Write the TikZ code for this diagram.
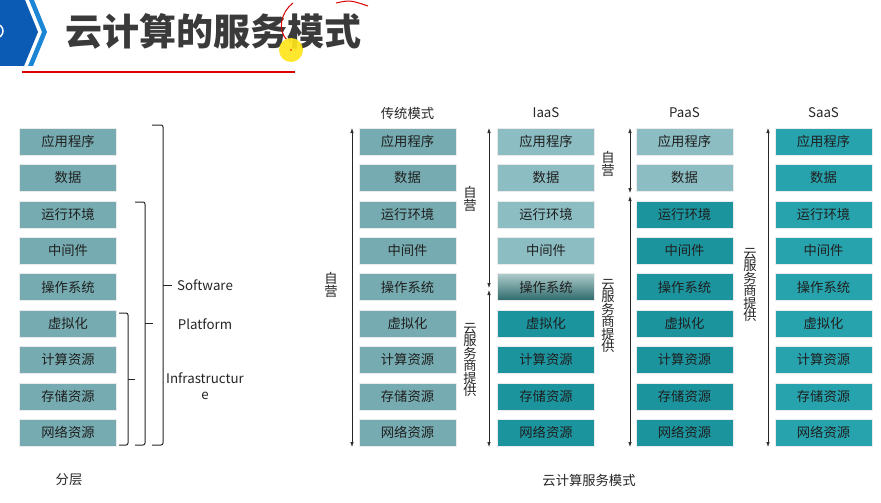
\documentclass[tikz,border=0pt]{standalone}
\usepackage{fontspec}
\setmainfont{Noto Sans CJK SC}
\usetikzlibrary{arrows.meta}
\definecolor{tradc}{HTML}{76ACB1}
\definecolor{lightc}{HTML}{8CBDC2}
\definecolor{darkc}{HTML}{1B949E}
\definecolor{saasc}{HTML}{27A3AD}
\definecolor{osTop}{HTML}{AECBCB}
\definecolor{osBot}{HTML}{2C696B}
\definecolor{chevblue}{HTML}{0B5BB5}
\definecolor{stripeblue}{HTML}{1C86D6}
\definecolor{titlegray}{HTML}{3A3A3A}
\tikzset{
  layer/.style={minimum width=97pt, minimum height=27pt, inner sep=0pt,
    font=\fontsize{13.3}{14}\selectfont, text=black!88, draw=white!92!black, line width=0.6pt},
  tA/.style={fill=tradc},
  iA/.style={fill=lightc},
  iG/.style={top color=osTop, bottom color=osBot},
  iB/.style={fill=darkc},
  pA/.style={fill=lightc},
  pB/.style={fill=darkc},
  sA/.style={fill=saasc},
  dbl/.style={{Latex[length=5pt,width=3.5pt]}-{Latex[length=5pt,width=3.5pt]}, line width=0.7pt, draw=black!85},
  vlabel/.style={align=center, inner sep=0pt, font=\fontsize{13.3}{12.5}\selectfont, text=black!85},
  hlabel/.style={inner sep=0pt, font=\fontsize{13.3}{15}\selectfont, text=black!85},
  bracepath/.style={line width=1pt, draw=black!85, rounded corners=2pt}
}
\begin{document}
\begin{tikzpicture}[x=1pt,y=-1pt]
\useasboundingbox[fill=white] (0,0) rectangle (881,503);

% title bar
\fill[chevblue] (0,0) -- (25,0) -- (38,32) -- (24,66) -- (0,66) -- cycle;
\fill[stripeblue] (29,0) -- (34,0) -- (47,32) -- (33,66) -- (28,66) -- (42,32) -- cycle;
\draw[white, line width=1.5pt] (-4,31) circle (7);
\node[inner sep=0pt, font=\fontsize{37}{40}\selectfont\bfseries, text=titlegray] (title) at (213.5,31) {云计算的服务模式};
\draw[red!85!black, line width=1.2pt] (22,72) -- (295,72);
\draw[red!85!black, line width=1pt] (293,3) .. controls (281,12) and (277,30) .. (287,40);
\draw[red!85!black, line width=1pt] (336,3) .. controls (350,0) .. (368,6);
\fill[yellow!85!orange!90!white, opacity=0.92] (291,50) circle (12);
\fill[red] (291,50) circle (0.9);

% rows
\foreach \n/\t/\si/\sp [count=\i from 0] in {
  app/应用程序/iA/pA, data/数据/iA/pA, rt/运行环境/iA/pB, mid/中间件/iA/pB,
  os/操作系统/iG/pB, virt/虚拟化/iB/pB, comp/计算资源/iB/pB,
  stor/存储资源/iB/pB, net/网络资源/iB/pB} {
  \node[layer, tA] (L\n) at (68, 141.5+36.4*\i) {\t};
  \node[layer, tA] (T\n) at (407.5, 141.5+36.4*\i) {\t};
  \node[layer, \si] (I\n) at (546, 141.5+36.4*\i) {\t};
  \node[layer, \sp] (P\n) at (684.5, 141.5+36.4*\i) {\t};
  \node[layer, sA] (S\n) at (823.5, 141.5+36.4*\i) {\t};
}

% braces (left)
\draw[bracepath] (152,125) -- (163,125) -- (163,445) -- (152,445);
\draw[bracepath] (163,285) -- (172,285);
\draw[bracepath] (135,202) -- (145,202) -- (145,445) -- (135,445);
\draw[bracepath] (145,323) -- (153,323);
\draw[bracepath] (119,313) -- (128,313) -- (128,445) -- (119,445);
\draw[bracepath] (128,379) -- (135,379);
\node[hlabel] (sw) at (205,285) {Software};
\node[hlabel] (pf) at (205,324) {Platform};
\node[hlabel, align=center, font=\fontsize{13.3}{16.5}\selectfont] (inf) at (205,386) {Infrastructur\\e};

% headers
\node[hlabel] (h1) at (407.5,113) {传统模式};
\node[hlabel] (h2) at (546,113) {IaaS};
\node[hlabel] (h3) at (684.5,113) {PaaS};
\node[hlabel] (h4) at (823.5,113) {SaaS};

% arrows
\coordinate (t1) at (352,128); \coordinate (t2) at (352,447);
\coordinate (ia1) at (489,128); \coordinate (ia2) at (489,288);
\coordinate (ib1) at (489,290); \coordinate (ib2) at (489,447);
\coordinate (pa1) at (630,128); \coordinate (pa2) at (630,193);
\coordinate (pb1) at (630,196); \coordinate (pb2) at (630,447);
\coordinate (s1) at (768,128); \coordinate (s2) at (768,447);
\draw[dbl] (t1) -- (t2);
\draw[dbl] (ia1) -- (ia2);
\draw[dbl] (ib1) -- (ib2);
\draw[dbl] (pa1) -- (pa2);
\draw[dbl] (pb1) -- (pb2);
\draw[dbl] (s1) -- (s2);

% vertical labels
\node[vlabel] (v1) at (331,285) {自\\营};
\node[vlabel] (v2) at (470,199) {自\\营};
\node[vlabel] (v3) at (470,360) {云\\服\\务\\商\\提\\供};
\node[vlabel] (v4) at (608,164) {自\\营};
\node[vlabel] (v5) at (608,316) {云\\服\\务\\商\\提\\供};
\node[vlabel] (v6) at (750,285) {云\\服\\务\\商\\提\\供};

% bottom captions
\node[hlabel] (c1) at (69,480) {分层};
\node[hlabel] (c2) at (589,480) {云计算服务模式};
\end{tikzpicture}
\end{document}
